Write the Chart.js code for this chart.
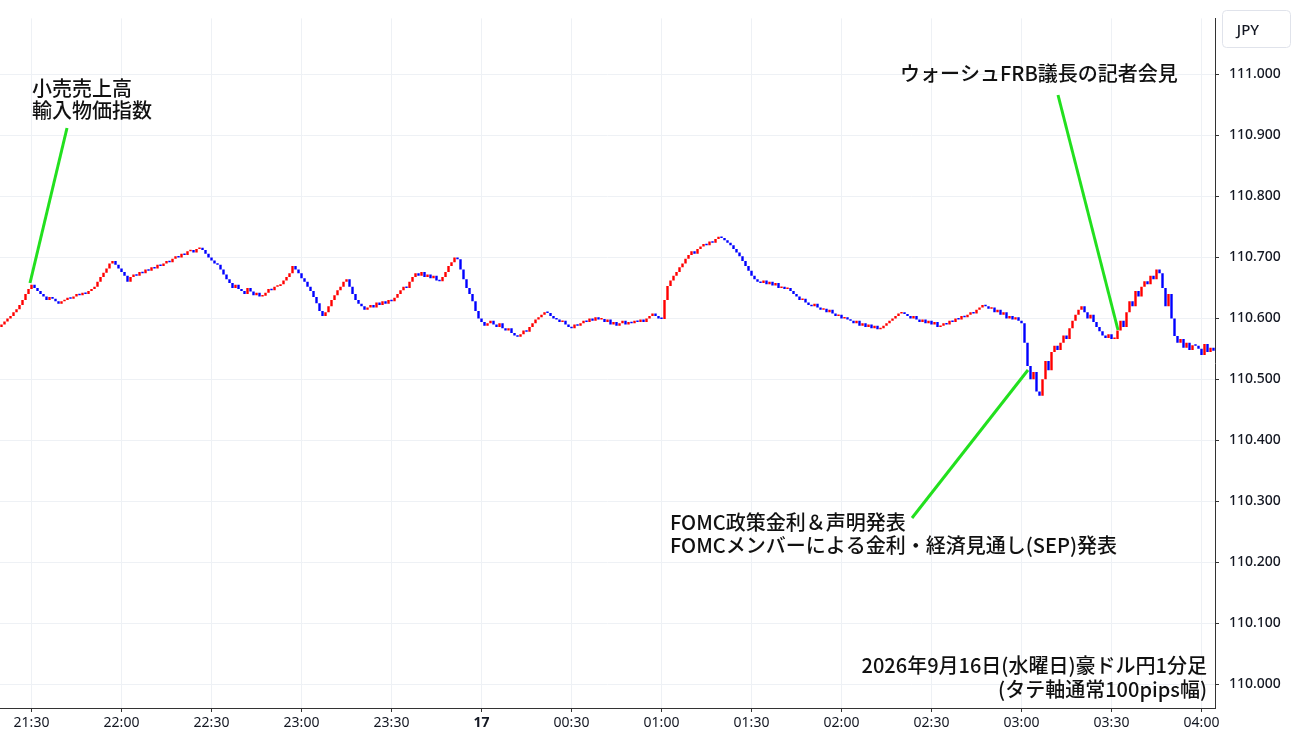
<!DOCTYPE html>
<html lang="ja">
<head>
<meta charset="UTF-8">
<title>豪ドル円 1分足</title>
<script src="https://cdn.jsdelivr.net/npm/chart.js"></script>
<style>
  body { margin: 0; background: #fff; }
</style>
</head>
<body>
<canvas id="grafico" width="1300" height="745"></canvas>
<script>
// 1分足の終値 (21:20 から 04:04)
const closes = [
 110.590,110.595,110.600,110.604,110.610,110.615,110.622,110.630,110.640,110.648,110.655,
 110.650,110.645,110.640,110.636,110.630,110.635,110.632,110.628,110.624,110.628,
 110.630,110.634,110.632,110.636,110.640,110.638,110.642,110.640,110.645,110.648,
 110.652,110.660,110.668,110.675,110.682,110.690,110.694,
 110.688,110.682,110.676,110.670,110.660,110.668,
 110.672,110.670,110.676,110.674,110.680,110.678,110.684,110.682,110.688,110.686,
 110.690,110.694,110.692,110.698,110.702,110.700,110.706,110.704,110.710,110.712,110.708,110.714,110.716,110.712,
 110.706,110.700,110.695,110.690,110.688,
 110.680,110.672,110.664,110.658,110.650,110.655,110.648,110.645,
 110.640,110.650,110.644,110.638,110.642,110.636,110.637,
 110.642,110.648,110.646,110.652,110.653,
 110.656,110.662,110.668,110.674,110.686,110.680,
 110.674,110.666,110.660,110.652,110.645,
 110.635,110.625,110.612,110.604,
 110.610,110.620,110.630,110.638,110.646,110.652,110.660,110.664,
 110.652,110.640,110.630,110.624,110.620,
 110.614,110.618,110.622,110.618,110.626,110.622,110.628,110.624,110.630,110.628,
 110.634,110.640,110.646,110.652,110.650,110.660,110.668,110.674,
 110.670,110.676,110.668,110.672,110.666,110.670,110.662,110.661,
 110.668,110.676,110.686,110.692,110.700,110.697,
 110.680,110.664,110.650,110.640,110.628,
 110.612,110.600,110.594,110.588,110.592,
 110.596,110.590,110.586,110.592,110.584,110.580,110.584,110.576,110.572,110.570,110.574,
 110.580,110.578,110.586,110.592,110.598,110.602,110.606,110.610,110.609,
 110.604,110.600,110.598,110.594,110.596,110.590,110.586,110.584,110.590,110.588,
 110.592,110.596,110.594,110.600,110.596,110.602,110.598,110.599,
 110.594,110.598,110.590,110.594,110.588,110.592,110.596,110.590,110.594,110.592,
 110.596,110.594,110.598,110.594,110.600,110.604,110.608,110.604,110.600,110.599,
 110.630,110.653,
 110.662,110.670,110.676,110.684,110.690,110.698,110.704,110.710,
 110.706,110.714,110.718,110.722,110.720,110.726,110.724,110.730,110.734,110.732,
 110.728,110.724,110.720,110.714,110.708,110.702,
 110.694,110.686,110.678,110.670,110.664,110.660,110.658,
 110.662,110.656,110.660,110.654,110.658,110.650,110.652,110.648,110.650,110.645,
 110.640,110.636,110.630,110.632,110.626,110.622,110.620,
 110.624,110.618,110.614,110.616,110.610,110.614,110.608,110.604,110.606,110.600,110.602,110.598,110.596,
 110.592,110.596,110.588,110.592,110.586,110.590,110.584,110.588,110.582,110.584,
 110.588,110.592,110.596,110.600,110.604,110.608,110.610,110.607,
 110.604,110.600,110.604,110.598,110.594,110.598,110.592,110.596,110.590,110.594,110.586,110.588,
 110.592,110.590,110.596,110.594,110.600,110.598,110.604,110.602,110.606,110.610,110.608,110.614,110.618,110.622,110.620,
 110.616,110.618,110.610,110.614,110.606,110.610,110.600,110.604,110.598,110.602,110.596,110.592,
 110.560,110.522,
 110.500,110.512,110.480,110.473,
 110.500,110.530,110.515,110.545,110.555,
 110.548,110.560,110.572,110.566,110.584,110.596,110.606,110.614,110.620,
 110.610,110.600,110.606,110.594,110.586,110.579,
 110.572,110.568,110.574,110.566,110.566,
 110.580,110.596,110.586,110.610,110.628,
 110.620,110.645,110.636,110.652,110.661,
 110.656,110.670,110.664,110.680,110.674,
 110.650,110.620,110.640,110.600,110.571,
 110.560,110.566,110.552,110.560,110.548,110.556,110.555,
 110.550,110.540,110.558,110.545,110.552,110.547
];
const firstOpen = 110.586;

// 時間軸の目盛り (分インデックス) とラベル
const tickIndex = [10, 40, 70, 100, 130, 160, 190, 220, 250, 280, 310, 340, 370, 400];
const tickLabels = ['21:30','22:00','22:30','23:00','23:30','17','00:30','01:00','01:30','02:00','02:30','03:00','03:30','04:00'];
const yTicks = [110.0, 110.1, 110.2, 110.3, 110.4, 110.5, 110.6, 110.7, 110.8, 110.9, 111.0];

const velas = [];
const cores = [];
for (let i = 0; i < closes.length; i++) {
  const o = i === 0 ? firstOpen : closes[i - 1];
  const c = closes[i];
  velas.push({ x: i, y: [o, c] });
  cores.push(c >= o ? '#ff0000' : '#0000ff');
}

const textos = {
  id: 'textos',
  afterDraw(chart) {
    const ctx = chart.ctx;
    ctx.save();
    // green leader lines
    ctx.strokeStyle = '#22e01e';
    ctx.lineWidth = 3;
    [[67,128,30,283],[1058,95,1118,330],[1028,370,912,518]].forEach(l => {
      ctx.beginPath(); ctx.moveTo(l[0], l[1]); ctx.lineTo(l[2], l[3]); ctx.stroke();
    });
    ctx.fillStyle = '#111';
    ctx.font = '500 20px "Noto Sans CJK JP"';
    ctx.textBaseline = 'alphabetic';
    ctx.textAlign = 'left';
    ctx.fillText('小売売上高', 32, 96);
    ctx.fillText('輸入物価指数', 32, 118);
    ctx.fillText('ウォーシュFRB議長の記者会見', 900, 81);
    ctx.fillText('FOMC政策金利＆声明発表', 670, 530);
    ctx.fillText('FOMCメンバーによる金利・経済見通し(SEP)発表', 670, 553);
    ctx.textAlign = 'right';
    ctx.fillText('2026年9月16日(水曜日)豪ドル円1分足', 1207, 673);
    ctx.fillText('(タテ軸通常100pips幅)', 1207, 697);
    // JPY box
    ctx.strokeStyle = '#e0e3eb';
    ctx.lineWidth = 1;
    ctx.beginPath(); ctx.roundRect(1222.5, 10.5, 68, 37, 4); ctx.stroke();
    ctx.textAlign = 'center';
    ctx.font = '500 15px "Noto Sans"';
    ctx.fillStyle = '#131722';
    ctx.fillText('JPY', 1248, 35);
    ctx.restore();
  }
};

new Chart(document.getElementById('grafico'), {
  type: 'bar',
  data: {
    datasets: [{
      data: velas,
      backgroundColor: cores,
      borderWidth: 0,
      barPercentage: 0.8,
      categoryPercentage: 1,
      minBarLength: 1.5
    }]
  },
  options: {
    responsive: false,
    animation: false,
    devicePixelRatio: 1,
    layout: { padding: 0 },
    plugins: { legend: { display: false }, tooltip: { enabled: false } },
    scales: {
      x: {
        type: 'linear',
        min: -0.5,
        max: 404.5,
        offset: false,
        afterBuildTicks(axis) { axis.ticks = tickIndex.map(v => ({ value: v })); },
        ticks: {
          autoSkip: false,
          maxRotation: 0,
          color: '#131722',
          font: ctx => ({ family: 'Noto Sans', size: 14, weight: (ctx.tick && ctx.tick.value === 160) ? 'bold' : 'normal' }),
          callback: v => tickLabels[tickIndex.indexOf(v)]
        },
        grid: { offset: false, color: '#eef1f5', drawTicks: true, tickLength: 4, tickColor: '#333' },
        border: { color: '#333', width: 1 },
        afterFit(axis) { axis.height = 37; }
      },
      y: {
        position: 'right',
        min: 109.961,
        max: 111.092,
        afterBuildTicks(axis) { axis.ticks = yTicks.map(v => ({ value: v })); },
        ticks: {
          color: '#131722',
          padding: 10,
          font: { family: 'Noto Sans', size: 14, weight: 500 },
          callback: v => v.toFixed(3)
        },
        grid: { color: '#eef1f5', drawTicks: true, tickLength: 4, tickColor: '#333' },
        border: { color: '#333', width: 1 },
        afterFit(axis) { axis.width = 85; }
      }
    }
  },
  plugins: [textos]
});
</script>
</body>
</html>
